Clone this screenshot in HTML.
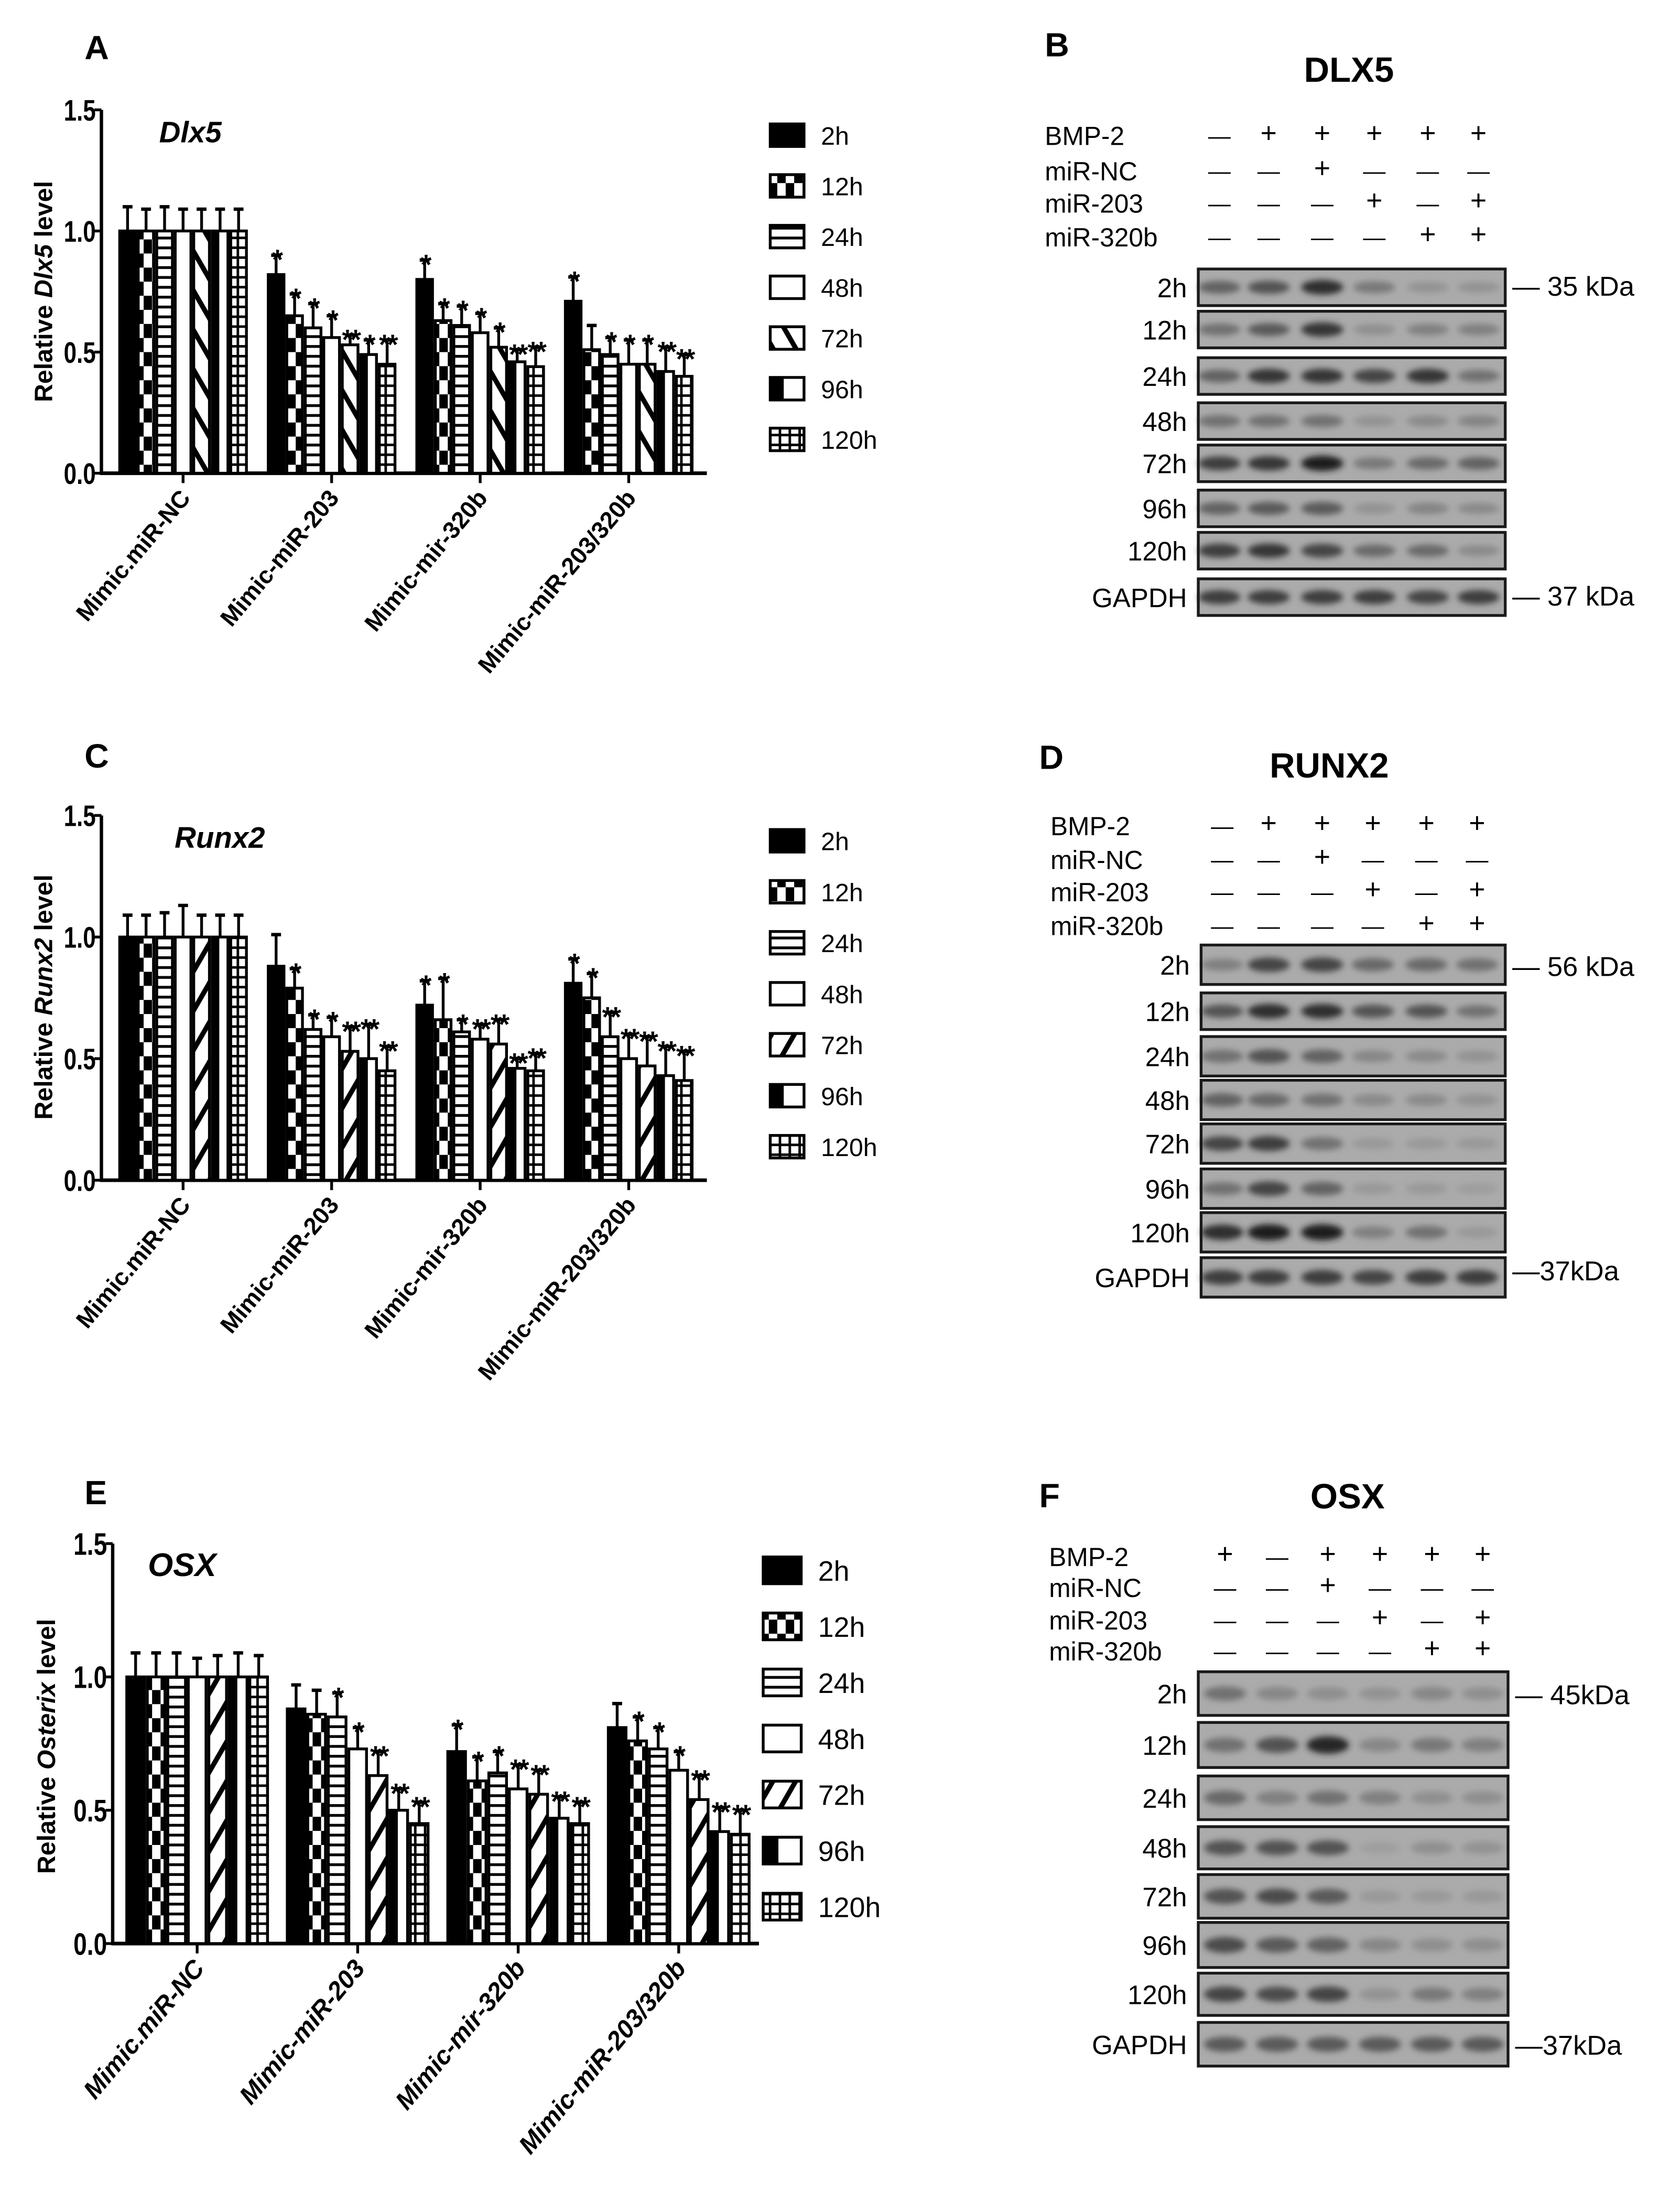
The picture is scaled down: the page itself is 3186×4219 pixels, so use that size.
<!DOCTYPE html>
<html><head><meta charset="utf-8"><style>
html,body{margin:0;padding:0;background:#fff;}
svg{display:block;}
text{font-family:"Liberation Sans",Arial,sans-serif;}
</style></head><body>
<svg id="fig" xmlns="http://www.w3.org/2000/svg" width="3186" height="4219" viewBox="0 0 1186 1570.6">
<defs>
<pattern id="p12" patternUnits="userSpaceOnUse" width="12" height="20"><rect width="12" height="20" fill="#fff"/><rect x="0" y="0" width="6" height="10" fill="#000"/><rect x="6" y="10" width="6" height="10" fill="#000"/></pattern>
<pattern id="p24" patternUnits="userSpaceOnUse" width="8" height="7"><rect width="8" height="7" fill="#fff"/><rect y="0" width="8" height="2" fill="#000"/></pattern>
<pattern id="pback" patternUnits="userSpaceOnUse" width="14" height="14" patternTransform="rotate(-30)"><rect width="14" height="14" fill="#fff"/><rect x="0" width="3.5" height="14" fill="#000"/></pattern>
<pattern id="pfwd" patternUnits="userSpaceOnUse" width="14" height="14" patternTransform="rotate(30)"><rect width="14" height="14" fill="#fff"/><rect x="0" width="3.5" height="14" fill="#000"/></pattern>
<pattern id="p120" patternUnits="userSpaceOnUse" width="7" height="7"><rect width="7" height="7" fill="#fff"/><rect y="0" width="7" height="1.8" fill="#000"/><rect x="0" width="1.8" height="7" fill="#000"/></pattern>
<pattern id="p96" patternUnits="userSpaceOnUse" width="4" height="4"><rect width="4" height="4" fill="#fff"/></pattern>
<filter id="blur" x="-50%" y="-100%" width="200%" height="300%"><feGaussianBlur stdDeviation="2.2"/></filter>
</defs>
</svg>
<script>
// ---------- DATA ----------
const groups = ["Mimic.miR-NC","Mimic-miR-203","Mimic-mir-320b","Mimic-miR-203/320b"];
const times = ["2h","12h","24h","48h","72h","96h","120h"];
const yTicks = [0.0,0.5,1.0,1.5];
const yTickLabels = ["0.0","0.5","1.0","1.5"];
const groupsE = ["Mimic.miR-NC","Mimic-miR-203","Mimic-mir-320b","Mimic-miR-203/320b"];

const dlx5Values = [[1,1,1,1,1,1,1],[0.82,0.65,0.60,0.56,0.53,0.49,0.45],[0.80,0.63,0.61,0.58,0.52,0.46,0.44],[0.71,0.51,0.49,0.45,0.45,0.42,0.40]];
const dlx5Errors = [[0.10,0.09,0.10,0.09,0.09,0.09,0.09],[0.08,0.09,0.10,0.09,0.04,0.06,0.10],[0.08,0.07,0.08,0.08,0.08,0.05,0.08],[0.10,0.10,0.07,0.10,0.10,0.10,0.09]];
const dlx5Stars = [["","","","","","",""],["*","*","*","*","**","*","**"],["*","*","*","*","*","**","**"],["*","","*","*","*","**","**"]];

const runx2Values = [[1,1,1,1,1,1,1],[0.88,0.79,0.62,0.59,0.53,0.50,0.45],[0.72,0.66,0.61,0.58,0.56,0.46,0.45],[0.81,0.75,0.59,0.50,0.47,0.43,0.41]];
const runx2Errors = [[0.09,0.09,0.10,0.13,0.09,0.09,0.09],[0.13,0.08,0.06,0.08,0.10,0.14,0.10],[0.10,0.17,0.05,0.06,0.10,0.04,0.07],[0.10,0.10,0.10,0.10,0.12,0.12,0.12]];
const runx2Stars = [["","","","","","",""],["","*","*","*","**","**","**"],["*","*","*","**","**","**","**"],["*","*","**","**","**","**","**"]];

const osxValues = [[1,1,1,1,1,1,1],[0.88,0.86,0.85,0.73,0.63,0.50,0.45],[0.72,0.61,0.64,0.58,0.56,0.47,0.45],[0.81,0.76,0.73,0.65,0.54,0.42,0.41]];
const osxErrors = [[0.09,0.09,0.09,0.07,0.08,0.09,0.08],[0.09,0.09,0.09,0.08,0.09,0.08,0.08],[0.10,0.09,0.08,0.09,0.09,0.08,0.08],[0.09,0.09,0.08,0.07,0.09,0.09,0.09]];
const osxStars = [["","","","","","",""],["","","*","*","**","**","**"],["*","*","*","**","**","**","**"],["","*","*","*","**","**","**"]];

const dlxBMP = ["–","+","+","+","+","+"], dlxNC = ["–","–","+","–","–","–"], dlx203 = ["–","–","–","+","–","+"], dlx320 = ["–","–","–","–","+","+"];
const runBMP = ["–","+","+","+","+","+"], runNC = ["–","–","+","–","–","–"], run203 = ["–","–","–","+","–","+"], run320 = ["–","–","–","–","+","+"];
const osxBMP = ["+","–","+","+","+","+"], osxNC = ["–","–","+","–","–","–"], osx203 = ["–","–","–","+","–","+"], osx320 = ["–","–","–","–","+","+"];
const dlxBands = [[.45,.55,.8,.3,.12,.12],[.35,.5,.75,.15,.25,.25],[.45,.75,.75,.65,.75,.35],[.35,.35,.35,.12,.18,.22],[.7,.75,.9,.3,.4,.45],[.45,.5,.5,.12,.22,.18],[.7,.75,.65,.4,.4,.18],[.7,.7,.7,.7,.65,.7]];
const runBands = [[.25,.65,.65,.4,.4,.35],[.55,.8,.8,.55,.55,.35],[.35,.55,.45,.2,.18,.12],[.45,.4,.35,.18,.18,.12],[.65,.7,.35,.08,.08,.08],[.35,.65,.45,.08,.08,.05],[.8,.9,.9,.25,.35,.08],[.7,.7,.7,.65,.7,.7]];
const osxBands = [[.35,.2,.15,.12,.2,.15],[.35,.55,.85,.2,.3,.25],[.4,.25,.35,.25,.15,.15],[.55,.55,.55,.04,.15,.12],[.55,.6,.5,.08,.08,.08],[.6,.5,.45,.2,.15,.15],[.65,.6,.65,.12,.3,.25],[.5,.5,.5,.5,.5,.5]];

// ---------- HELPERS ----------
const svg = document.getElementById('fig');
const NS = "http://www.w3.org/2000/svg";
function mk(tag, attrs, parent, txt){
  const e = document.createElementNS(NS, tag);
  for (const k in attrs) e.setAttribute(k, attrs[k]);
  if (txt !== undefined) e.textContent = txt;
  (parent||svg).appendChild(e);
  return e;
}
function fillFor(i, diag){
  return ["#000","url(#p12)","url(#p24)","#fff",diag,"url(#p96)","url(#p120)"][i];
}

function drawChart(c){
  const g = mk('g', {});
  
  
  const y = v => c.y0 - (v/1.5)*(c.y0 - c.y15);
  const barW = c.groupW/7;
  const ya = mk('line',{x1:c.ax,y1:c.y15,x2:c.ax,y2:c.y0+1,stroke:'#000','stroke-width':2.4},g);
   
  const xa = mk('line',{x1:c.ax-1,y1:c.y0,x2:c.axEnd,y2:c.y0,stroke:'#000','stroke-width':2.6},g);
   
  yTicks.forEach((t,i)=>{
    mk('line',{x1:c.ax-5,y1:y(t),x2:c.ax,y2:y(t),stroke:'#000','stroke-width':2},g);
    const tl = mk('text',{x:0,y:0,'text-anchor':'end','font-size':c.tkfs,'font-weight':'bold',transform:`translate(${c.ax-4},${y(t)+c.tkfs*0.36}) scale(0.78,1)`},g,yTickLabels[i]);
     
  });
  c.values.forEach((vals,gi)=>{
    const cx = c.gc0 + gi*c.gsp;
    const gx = cx - c.groupW/2;
    mk('line',{x1:cx,y1:c.y0,x2:cx,y2:c.y0+7,stroke:'#000','stroke-width':2},g);
    const lab = mk('text',{x:0,y:0,'text-anchor':'end','font-size':c.fs,'font-weight':'bold','font-style':c.italic?'italic':'normal',transform:`translate(${cx+6},${c.y0+18}) rotate(-50)`},g,c.groups[gi]);
     
    vals.forEach((v,bi)=>{
      const bx = gx + bi*barW;
      const top = y(v), et = y(v + c.errors[gi][bi]);
      const em = mk('line',{x1:bx+barW/2,y1:top,x2:bx+barW/2,y2:et,stroke:'#000','stroke-width':2},g);
       
      mk('line',{x1:bx+barW/2-3.5,y1:et,x2:bx+barW/2+3.5,y2:et,stroke:'#000','stroke-width':2.4},g);
      const r = mk('rect',{x:bx+1,y:top,width:barW-2,height:c.y0-top,fill:fillFor(bi,c.diag),stroke:'#000','stroke-width':2},g);
       
      if (bi===5){ mk('rect',{x:bx+1,y:top,width:(barW-2)*0.45,height:c.y0-top,fill:'#000'},g); }
      const s = c.stars[gi][bi];
      if (s){
        const st = mk('text',{x:bx+barW/2,y:et+10,'text-anchor':'middle','font-size':20,'font-weight':'bold','letter-spacing':-2},g,s);
         
      }
    });
  });
  const yt = mk('text',{x:0,y:0,'text-anchor':'middle','font-size':c.yfs,'font-weight':'bold',transform:`translate(${c.ytx},${c.yty}) rotate(-90)`},g);
   
  mk('tspan',{},yt,'Relative ');
  mk('tspan',{'font-style':'italic'},yt,c.gene);
  mk('tspan',{},yt,' level');
  const tt = mk('text',{x:c.tx,y:c.ty,'font-size':c.tfs,'font-weight':'bold','font-style':'italic'},g,c.title);
   
  times.forEach((t,i)=>{
    const ly = c.ly0 + i*c.lsp;
    const lg = mk('g',{},g);
     
    mk('rect',{x:c.lx,y:ly-c.lh/2,width:c.lw,height:c.lh,fill:fillFor(i,c.diag),stroke:'#000','stroke-width':2},lg);
    if (i===5) mk('rect',{x:c.lx,y:ly-c.lh/2,width:c.lw*0.4,height:c.lh,fill:'#000'},lg);
    mk('text',{x:c.lx+c.lw+12,y:ly+c.lfs*0.37,'font-size':c.lfs},lg,t);
  });
}

drawChart({name:'chart-dlx5',ax:72,axEnd:502,y0:336,y15:78,gc0:130,gsp:105.5,groupW:92,values:dlx5Values,errors:dlx5Errors,stars:dlx5Stars,groups:groups,diag:'url(#pback)',fs:17,tkfs:21,yfs:18,italic:false,ytx:37,yty:207,gene:'Dlx5',title:'Dlx5',tx:113,ty:101,tfs:21,lx:547,ly0:96,lsp:36,lw:24,lh:16,lfs:18});
drawChart({name:'chart-runx2',ax:72,axEnd:502,y0:838,y15:579,gc0:130,gsp:105.5,groupW:92,values:runx2Values,errors:runx2Errors,stars:runx2Stars,groups:groups,diag:'url(#pfwd)',fs:17,tkfs:21,yfs:18,italic:false,ytx:37,yty:708,gene:'Runx2',title:'Runx2',tx:124,ty:602,tfs:21,lx:547,ly0:597,lsp:36.2,lw:24,lh:16,lfs:18});
drawChart({name:'chart-osx',ax:80,axEnd:539,y0:1380,y15:1096,gc0:140,gsp:114,groupW:102,values:osxValues,errors:osxErrors,stars:osxStars,groups:groupsE,diag:'url(#pfwd)',fs:18,tkfs:22,yfs:18,italic:true,ytx:39,yty:1240,gene:'Osterix',title:'OSX',tx:105,ty:1119,tfs:23,lx:542,ly0:1115,lsp:39.8,lw:27,lh:19,lfs:20});

[["A",60,42],["B",742,40],["C",60,545],["D",738,546],["E",60,1068],["F",738,1070]].forEach(p=>{
  const t = mk('text',{x:p[1],y:p[2],'font-size':24,'font-weight':'bold'},svg,p[0]);
   
});

function drawBlot(b){
  const g = mk('g',{});
  
  
  const tt = mk('text',{x:b.tcx,y:b.ty,'text-anchor':'middle','font-size':25,'font-weight':'bold'},g,b.title);
   
  const hdr = [["BMP-2",b.bmp],["miR-NC",b.nc],["miR-203",b.m203],["miR-320b",b.m320]];
  hdr.forEach((h,i)=>{
    const hy = b.hy[i];
    const l = mk('text',{x:b.hx,y:hy+7,'font-size':18.5},g,h[0]);
     
    h[1].forEach((s,j)=>{
      mk('text',{x:b.lanes[j],y:hy+(s==='+'?5:6),'text-anchor':'middle','font-size':s==='+'?20:16},g,s==='+'?'+':'—');
    });
  });
  const rows = times.concat(["GAPDH"]);
  rows.forEach((r,i)=>{
    const [y1,y2] = b.rows[i];
    const rg = mk('g',{},g);
     
    mk('rect',{x:b.bx1,y:y1,width:b.bx2-b.bx1,height:y2-y1,fill:'#ababab'},rg);
    b.bands[i].forEach((v,j)=>{
      const d = Math.round(165 - v*150);
      mk('ellipse',{cx:b.lanes[j],cy:(y1+y2)/2,rx:15,ry:(y2-y1)*0.14+v*2,fill:`rgb(${d},${d},${d})`,filter:'url(#blur)'},rg);
    });
    mk('rect',{x:b.bx1,y:y1,width:b.bx2-b.bx1,height:y2-y1,fill:'none',stroke:'#1a1a1a','stroke-width':2},rg);
    mk('text',{x:b.bx1-8,y:(y1+y2)/2+7,'text-anchor':'end','font-size':19},rg,r);
  });
  b.kda.forEach(k=>{
    const t = mk('text',{x:b.bx2+5,y:k[0]+7,'font-size':19.5},g,k[1]);
     
  });
}
drawBlot({name:'blot-dlx5',title:'DLX5',tcx:958,ty:58,hx:742,hy:[96,121,144,168],lanes:[866,901,939,976,1014,1050],bmp:dlxBMP,nc:dlxNC,m203:dlx203,m320:dlx320,bx1:851,bx2:1069,
  rows:[[191,217],[221,247],[254,280],[286,312],[316,342],[348,374],[378,404],[411,437]],bands:dlxBands,kda:[[203,'— 35 kDa'],[423,'— 37 kDa']]});
drawBlot({name:'blot-runx2',title:'RUNX2',tcx:944,ty:552,hx:746,hy:[586,610,633,657],lanes:[868,901,939,975,1013,1049],bmp:runBMP,nc:runNC,m203:run203,m320:run320,bx1:853,bx2:1069,
  rows:[[671,699],[705,731],[736,764],[767,795],[798,826],[830,858],[861,889],[893,921]],bands:runBands,kda:[[686,'— 56 kDa'],[902,'—37kDa']]});
drawBlot({name:'blot-osx',title:'OSX',tcx:957,ty:1071,hx:745,hy:[1105,1127,1150,1172],lanes:[870,907,943,980,1017,1053],bmp:osxBMP,nc:osxNC,m203:osx203,m320:osx320,bx1:851,bx2:1071,
  rows:[[1187,1218],[1223,1255],[1261,1292],[1297,1327],[1331,1362],[1365,1397],[1401,1431],[1436,1467]],bands:osxBands,kda:[[1203,'— 45kDa'],[1452,'—37kDa']]});
</script>
</body></html>
